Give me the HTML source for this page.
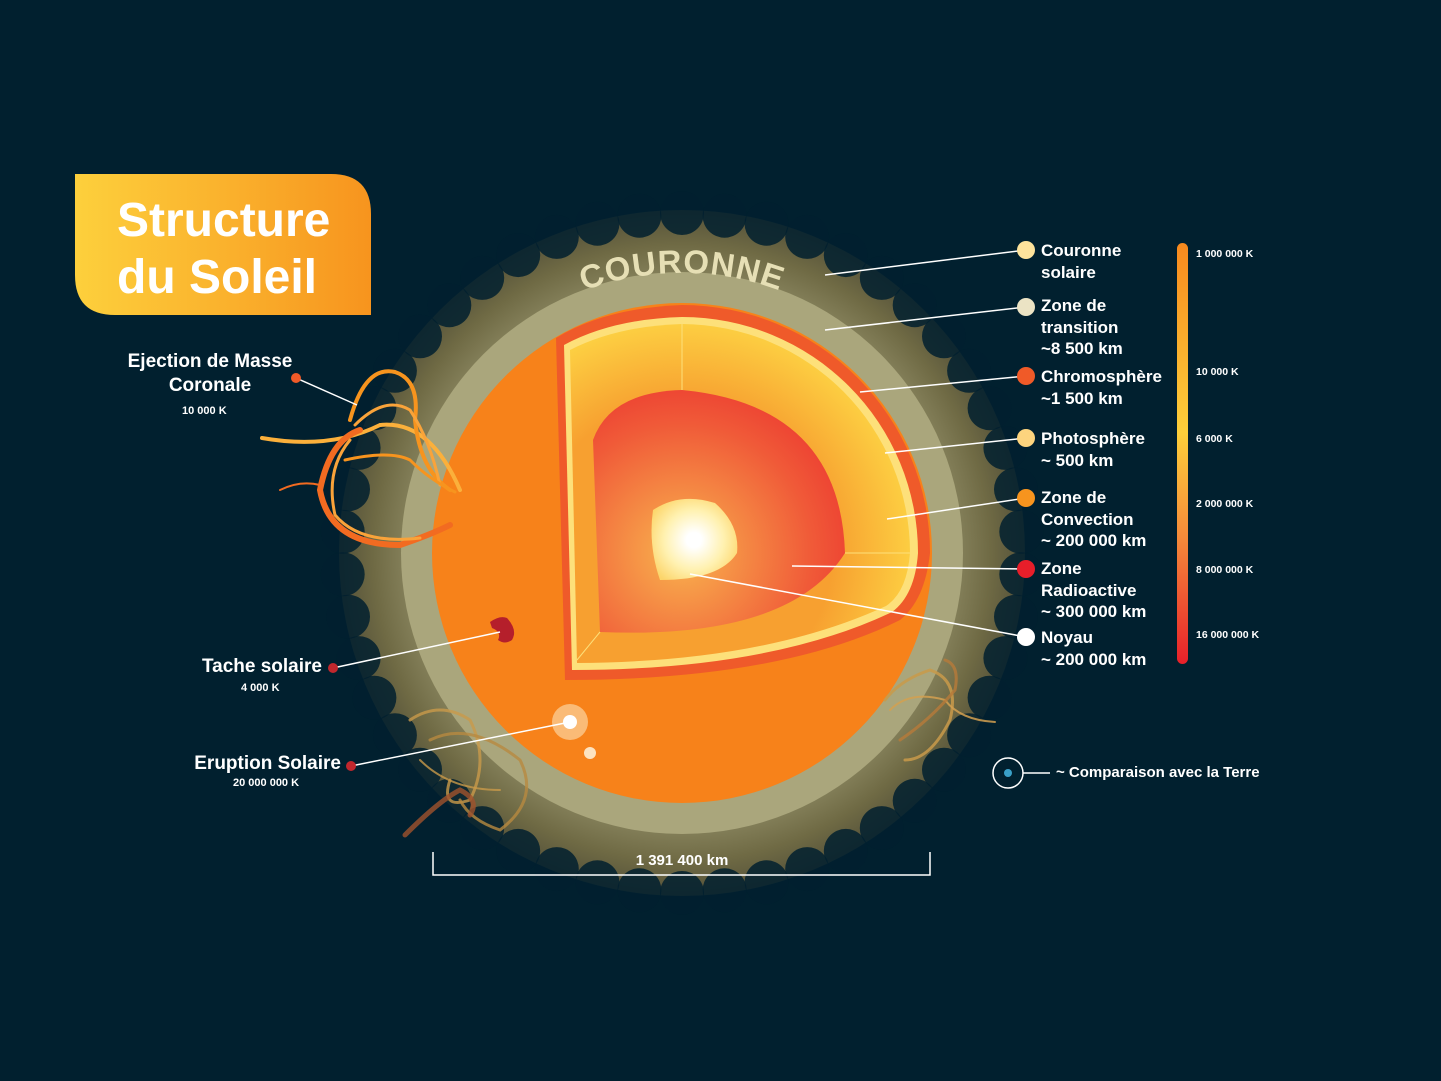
<!DOCTYPE html>
<html><head><meta charset="utf-8">
<style>
html,body{margin:0;padding:0;background:#01202f;}
body{width:1441px;height:1081px;overflow:hidden;position:relative;font-family:"Liberation Sans Narrow","Liberation Sans",sans-serif;}
.t{position:absolute;color:#fff;font-weight:bold;white-space:nowrap;}
</style></head><body>
<svg id="s" width="1441" height="1081" style="position:absolute;left:0;top:0">
<defs>
<radialGradient id="glow" cx="682" cy="553" r="343" gradientUnits="userSpaceOnUse">
<stop offset="0.78" stop-color="#8a8660"/>
<stop offset="0.9" stop-color="#6f6a44"/>
<stop offset="1" stop-color="#55523a"/>
</radialGradient>
<radialGradient id="core" cx="694" cy="540" r="50" gradientUnits="userSpaceOnUse">
<stop offset="0.15" stop-color="#ffffff"/>
<stop offset="0.6" stop-color="#fff1b0"/>
<stop offset="1" stop-color="#fcd56a"/>
</radialGradient>
<radialGradient id="rad" cx="682" cy="553" r="260" gradientUnits="userSpaceOnUse">
<stop offset="0.1" stop-color="#f7a24a"/>
<stop offset="0.5" stop-color="#f05a38"/>
<stop offset="0.9" stop-color="#e81e2a"/>
</radialGradient>
<radialGradient id="conv" cx="682" cy="553" r="300" gradientUnits="userSpaceOnUse">
<stop offset="0.5" stop-color="#f7a030"/>
<stop offset="0.8" stop-color="#fdd444"/>
<stop offset="1" stop-color="#f7a030"/>
</radialGradient>
<linearGradient id="title" x1="0" y1="0" x2="1" y2="0">
<stop offset="0" stop-color="#fdd03c"/><stop offset="1" stop-color="#f7941e"/>
</linearGradient>
<linearGradient id="bar" x1="0" y1="0" x2="0" y2="1">
<stop offset="0" stop-color="#f7891e"/><stop offset="0.45" stop-color="#fdcf3a"/>
<stop offset="0.7" stop-color="#f58a3a"/><stop offset="1" stop-color="#e8202a"/>
</linearGradient>
<path id="arc" d="M 402 553 A 280 280 0 0 1 962 553"/>
</defs>
<circle cx="682" cy="553" r="343" fill="url(#glow)"/>
<g id="scal"></g>
<circle cx="682" cy="553" r="281" fill="#aaa67c"/>
<circle cx="682" cy="553" r="250" fill="#f7821a"/>
<text font-family="Liberation Sans" font-weight="bold" font-size="33" fill="#e6dfb5" letter-spacing="1"><textPath href="#arc" startOffset="50%" text-anchor="middle">COURONNE</textPath></text>
<path d="M 556 338 Q 605 308 682 305 A 248 248 0 0 1 930 553 Q 925 600 900 620 Q 780 680 565 680 Z" fill="#ef5a2a"/>
<path d="M 564 345 Q 612 319 682 317 A 236 236 0 0 1 918 553 Q 915 595 892 612 Q 770 670 572 670 Z" fill="#fde07a"/>
<path d="M 570 350 Q 617 326 682 324 A 229 229 0 0 1 910 553 Q 907 592 886 606 Q 765 662 577 663 Z" fill="url(#conv)"/>
<path d="M 593 440 Q 610 392 682 390 Q 840 405 845 553 Q 790 640 600 632 Z" fill="url(#rad)"/>
<line x1="682" y1="324" x2="682" y2="390" stroke="#fde07a" stroke-width="1"/>
<line x1="845" y1="553" x2="910" y2="553" stroke="#fde07a" stroke-width="1"/>
<line x1="600" y1="632" x2="577" y2="660" stroke="#fde07a" stroke-width="1"/>
<path d="M 653 510 Q 680 492 715 503 Q 740 525 737 553 Q 720 580 660 580 Q 648 545 653 510 Z" fill="url(#core)"/>
<path d="M 490 622 Q 500 615 507 618 Q 518 630 512 640 Q 505 645 498 640 Q 502 632 492 628 Z" fill="#b51f2b"/>
<circle cx="570" cy="722" r="18" fill="#fbd3a0" opacity="0.7"/>
<circle cx="570" cy="722" r="7" fill="#fff"/>
<circle cx="590" cy="753" r="6" fill="#fde3c0"/>
<g fill="none" stroke-linecap="round">
<path d="M 262 438 Q 330 450 380 425 Q 430 420 460 490" stroke="#fbb03b" stroke-width="4"/>
<path d="M 350 420 Q 365 365 395 372 Q 420 380 415 420 Q 420 470 450 490" stroke="#f7941e" stroke-width="4"/>
<path d="M 355 425 Q 385 395 410 410 Q 430 440 440 485" stroke="#f9a33a" stroke-width="3"/>
<path d="M 360 430 Q 330 440 320 490 Q 330 545 400 545 Q 430 535 450 525" stroke="#f26b21" stroke-width="6"/>
<path d="M 350 440 Q 325 470 335 515 Q 360 545 420 538" stroke="#f9a33a" stroke-width="3"/>
<path d="M 280 490 Q 300 480 320 485" stroke="#f26b21" stroke-width="2"/>
<path d="M 345 460 Q 390 450 410 460 Q 430 480 455 492" stroke="#f7941e" stroke-width="3"/>
<path d="M 410 720 Q 440 700 470 720 Q 490 760 470 800 Q 440 810 450 780" stroke="#c99a4a" stroke-width="3" opacity="0.8"/>
<path d="M 430 740 Q 470 720 520 760 Q 540 800 500 830 Q 470 820 460 800" stroke="#b88a40" stroke-width="3" opacity="0.8"/>
<path d="M 405 835 Q 440 800 460 790 Q 480 800 470 815" stroke="#a0522d" stroke-width="5" opacity="0.8"/>
<path d="M 420 760 Q 450 790 500 790" stroke="#c99a4a" stroke-width="2" opacity="0.8"/>
<path d="M 885 700 Q 900 680 930 670 Q 960 680 950 720 Q 930 760 905 760" stroke="#c99a4a" stroke-width="3" opacity="0.85"/>
<path d="M 890 710 Q 910 690 945 700 Q 960 720 995 722" stroke="#d4a050" stroke-width="2" opacity="0.85"/>
<path d="M 900 740 Q 930 720 955 690 Q 960 665 945 660" stroke="#b87a3a" stroke-width="3" opacity="0.8"/>
</g>
<g stroke="#fff" stroke-width="1.5">
<line x1="825" y1="275" x2="1026" y2="250"/>
<line x1="825" y1="330" x2="1026" y2="307"/>
<line x1="860" y1="392" x2="1026" y2="376"/>
<line x1="885" y1="453" x2="1026" y2="438"/>
<line x1="887" y1="519" x2="1026" y2="498"/>
<line x1="792" y1="566" x2="1026" y2="569"/>
<line x1="690" y1="574" x2="1026" y2="637"/>
<line x1="296" y1="378" x2="357" y2="405"/>
<line x1="333" y1="668" x2="500" y2="632"/>
<line x1="351" y1="766" x2="570" y2="722"/>
<line x1="1023" y1="773" x2="1050" y2="773"/>
<polyline points="433,852 433,875 930,875 930,852" fill="none"/>
</g>
<circle cx="1026" cy="250" r="9" fill="#fde39c"/>
<circle cx="1026" cy="307" r="9" fill="#ebe3c4"/>
<circle cx="1026" cy="376" r="9" fill="#f05a28"/>
<circle cx="1026" cy="438" r="9" fill="#fdd47e"/>
<circle cx="1026" cy="498" r="9" fill="#f7941e"/>
<circle cx="1026" cy="569" r="9" fill="#e81e2a"/>
<circle cx="1026" cy="637" r="9" fill="#ffffff"/>
<circle cx="296" cy="378" r="5" fill="#f05a28"/>
<circle cx="333" cy="668" r="5" fill="#c1272d"/>
<circle cx="351" cy="766" r="5" fill="#c1272d"/>
<circle cx="1008" cy="773" r="15" fill="none" stroke="#fff" stroke-width="1.5"/>
<circle cx="1008" cy="773" r="4" fill="#3aa0c8"/>
<rect x="1177" y="243" width="11" height="421" rx="5.5" fill="url(#bar)"/>
<path d="M 75 174 H 331 Q 371 174 371 214 V 315 H 115 Q 75 315 75 275 Z" fill="url(#title)"/>
</svg>
<script>
var g=document.getElementById('scal'),n=50,h='';
for(var i=0;i<n;i++){var a=(i+0.5)/n*2*Math.PI;h+='<circle cx="'+(682+340*Math.cos(a)).toFixed(1)+'" cy="'+(553+340*Math.sin(a)).toFixed(1)+'" r="22" fill="#01202f" fill-opacity="0.85"/>';}
g.innerHTML=h;
</script>
<div class="t" style="left:117px;top:192px;font-family:'Liberation Sans',sans-serif;font-size:48px;line-height:57px">Structure<br>du Soleil</div>
<div class="t" style="left:110px;top:350px;width:200px;text-align:center;font-size:19px;line-height:24px">Ejection de Masse<br>Coronale</div>
<div class="t" style="left:182px;top:405px;font-size:11px">10 000 K</div>
<div class="t" style="left:170px;top:656px;width:152px;text-align:right;font-size:19px">Tache solaire</div>
<div class="t" style="left:241px;top:682px;font-size:11px">4 000 K</div>
<div class="t" style="left:150px;top:753px;width:191px;text-align:right;font-size:19px">Eruption Solaire</div>
<div class="t" style="left:233px;top:777px;font-size:11px">20 000 000 K</div>
<div class="t" style="left:620px;top:852px;width:124px;text-align:center;font-size:15px">1 391 400 km</div>
<div class="t" style="left:1041px;top:240px;font-size:17px;line-height:22px">Couronne<br>solaire</div>
<div class="t" style="left:1041px;top:295px;font-size:17px;line-height:21.5px">Zone de<br>transition<br>~8 500 km</div>
<div class="t" style="left:1041px;top:366px;font-size:17px;line-height:22px">Chromosphère<br>~1 500 km</div>
<div class="t" style="left:1041px;top:428px;font-size:17px;line-height:22px">Photosphère<br>~ 500 km</div>
<div class="t" style="left:1041px;top:487px;font-size:17px;line-height:21.5px">Zone de<br>Convection<br>~ 200 000 km</div>
<div class="t" style="left:1041px;top:558px;font-size:17px;line-height:21.5px">Zone<br>Radioactive<br>~ 300 000 km</div>
<div class="t" style="left:1041px;top:627px;font-size:17px;line-height:21.5px">Noyau<br>~ 200 000 km</div>
<div class="t" style="left:1196px;top:248px;font-size:10.5px">1 000 000 K</div>
<div class="t" style="left:1196px;top:366px;font-size:10.5px">10 000 K</div>
<div class="t" style="left:1196px;top:433px;font-size:10.5px">6 000 K</div>
<div class="t" style="left:1196px;top:498px;font-size:10.5px">2 000 000 K</div>
<div class="t" style="left:1196px;top:564px;font-size:10.5px">8 000 000 K</div>
<div class="t" style="left:1196px;top:629px;font-size:10.5px">16 000 000 K</div>
<div class="t" style="left:1056px;top:764px;font-size:15px">~ Comparaison avec la Terre</div>
</body></html>
